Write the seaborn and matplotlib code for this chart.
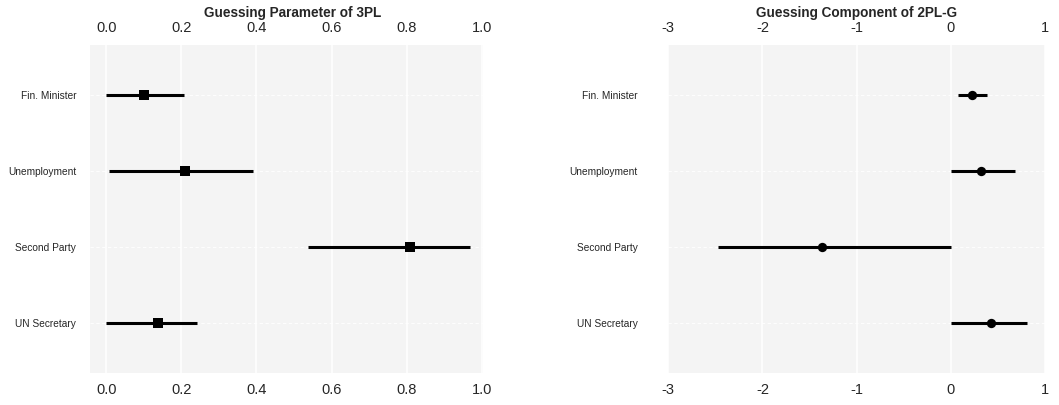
import numpy as np
import pandas as pd
import matplotlib
matplotlib.use("Agg")
import matplotlib.pyplot as plt
import seaborn as sns

# Items (top to bottom)
items = ["Fin. Minister", "Unemployment", "Second Party", "UN Secretary"]

# Guessing parameter of 3PL
est_3pl = [0.101, 0.211, 0.810, 0.139]
lo_3pl = [0.000, 0.008, 0.537, 0.000]
hi_3pl = [0.207, 0.390, 0.968, 0.243]

# Guessing component of 2PL-G
est_2plg = [0.22, 0.32, -1.365, 0.42]
lo_2plg = [0.07, 0.00, -2.47, 0.00]
hi_2plg = [0.38, 0.68, 0.00, 0.81]

sns.set_theme(style="whitegrid")
plt.rcParams['font.family'] = ['Liberation Sans', 'DejaVu Sans']

fig = plt.figure(figsize=(10.59, 4.05), dpi=100)
ax1 = fig.add_axes([0.085, 0.079, 0.371, 0.810])
ax2 = fig.add_axes([0.631, 0.079, 0.356, 0.810])


def panel(ax, est, lo, hi, marker, title, xlim, xticks, xlabels, ypad, tx):
    df = pd.DataFrame({"item": items, "est": est, "lo": lo, "hi": hi})
    df["pos"] = np.arange(len(items))
    ax.set_facecolor("#f4f4f4")
    ax.hlines(df["pos"], df["lo"], df["hi"], color="black", lw=2.2, zorder=3)
    sns.scatterplot(data=df, x="est", y="pos", marker=marker, s=45,
                    color="black", edgecolor="black", linewidth=0, ax=ax, zorder=4)
    ax.set_xlim(*xlim)
    ax.set_ylim(len(items) - 1 + 0.66, -0.66)
    ax.set_yticks(df["pos"])
    ax.set_yticklabels(items, fontsize=7.3)
    ax.set_xticks(xticks)
    ax.set_xticklabels(xlabels, fontsize=10.5)
    ax.set_xlabel("")
    ax.set_ylabel("")
    ax.tick_params(axis="x", top=False, bottom=False, labeltop=True, labelbottom=True,
                   length=0, pad=7)
    ax.tick_params(axis="y", left=False, length=0, pad=ypad)
    ax.grid(axis="x", color="white", lw=1.1)
    ax.grid(axis="y", color="white", lw=0.6, ls=(0, (4, 3)))
    for s in ax.spines.values():
        s.set_visible(False)
    ax.text(tx, 1.098, title, transform=ax.transAxes, ha="center", va="center",
            fontsize=9.8, fontweight="bold")


panel(ax1, est_3pl, lo_3pl, hi_3pl, "s", "Guessing Parameter of 3PL",
      (-0.043, 1.003), [0, 0.2, 0.4, 0.6, 0.8, 1.0],
      ["0.0", "0.2", "0.4", "0.6", "0.8", "1.0"], 10, 0.516)
panel(ax2, est_2plg, lo_2plg, hi_2plg, "o", "Guessing Component of 2PL-G",
      (-3, 0.98), [-3, -2, -1, 0, 1], ["-3", "-2", "-1", "0", "1"], 22, 0.5)

fig.savefig("out.png", dpi=100)
